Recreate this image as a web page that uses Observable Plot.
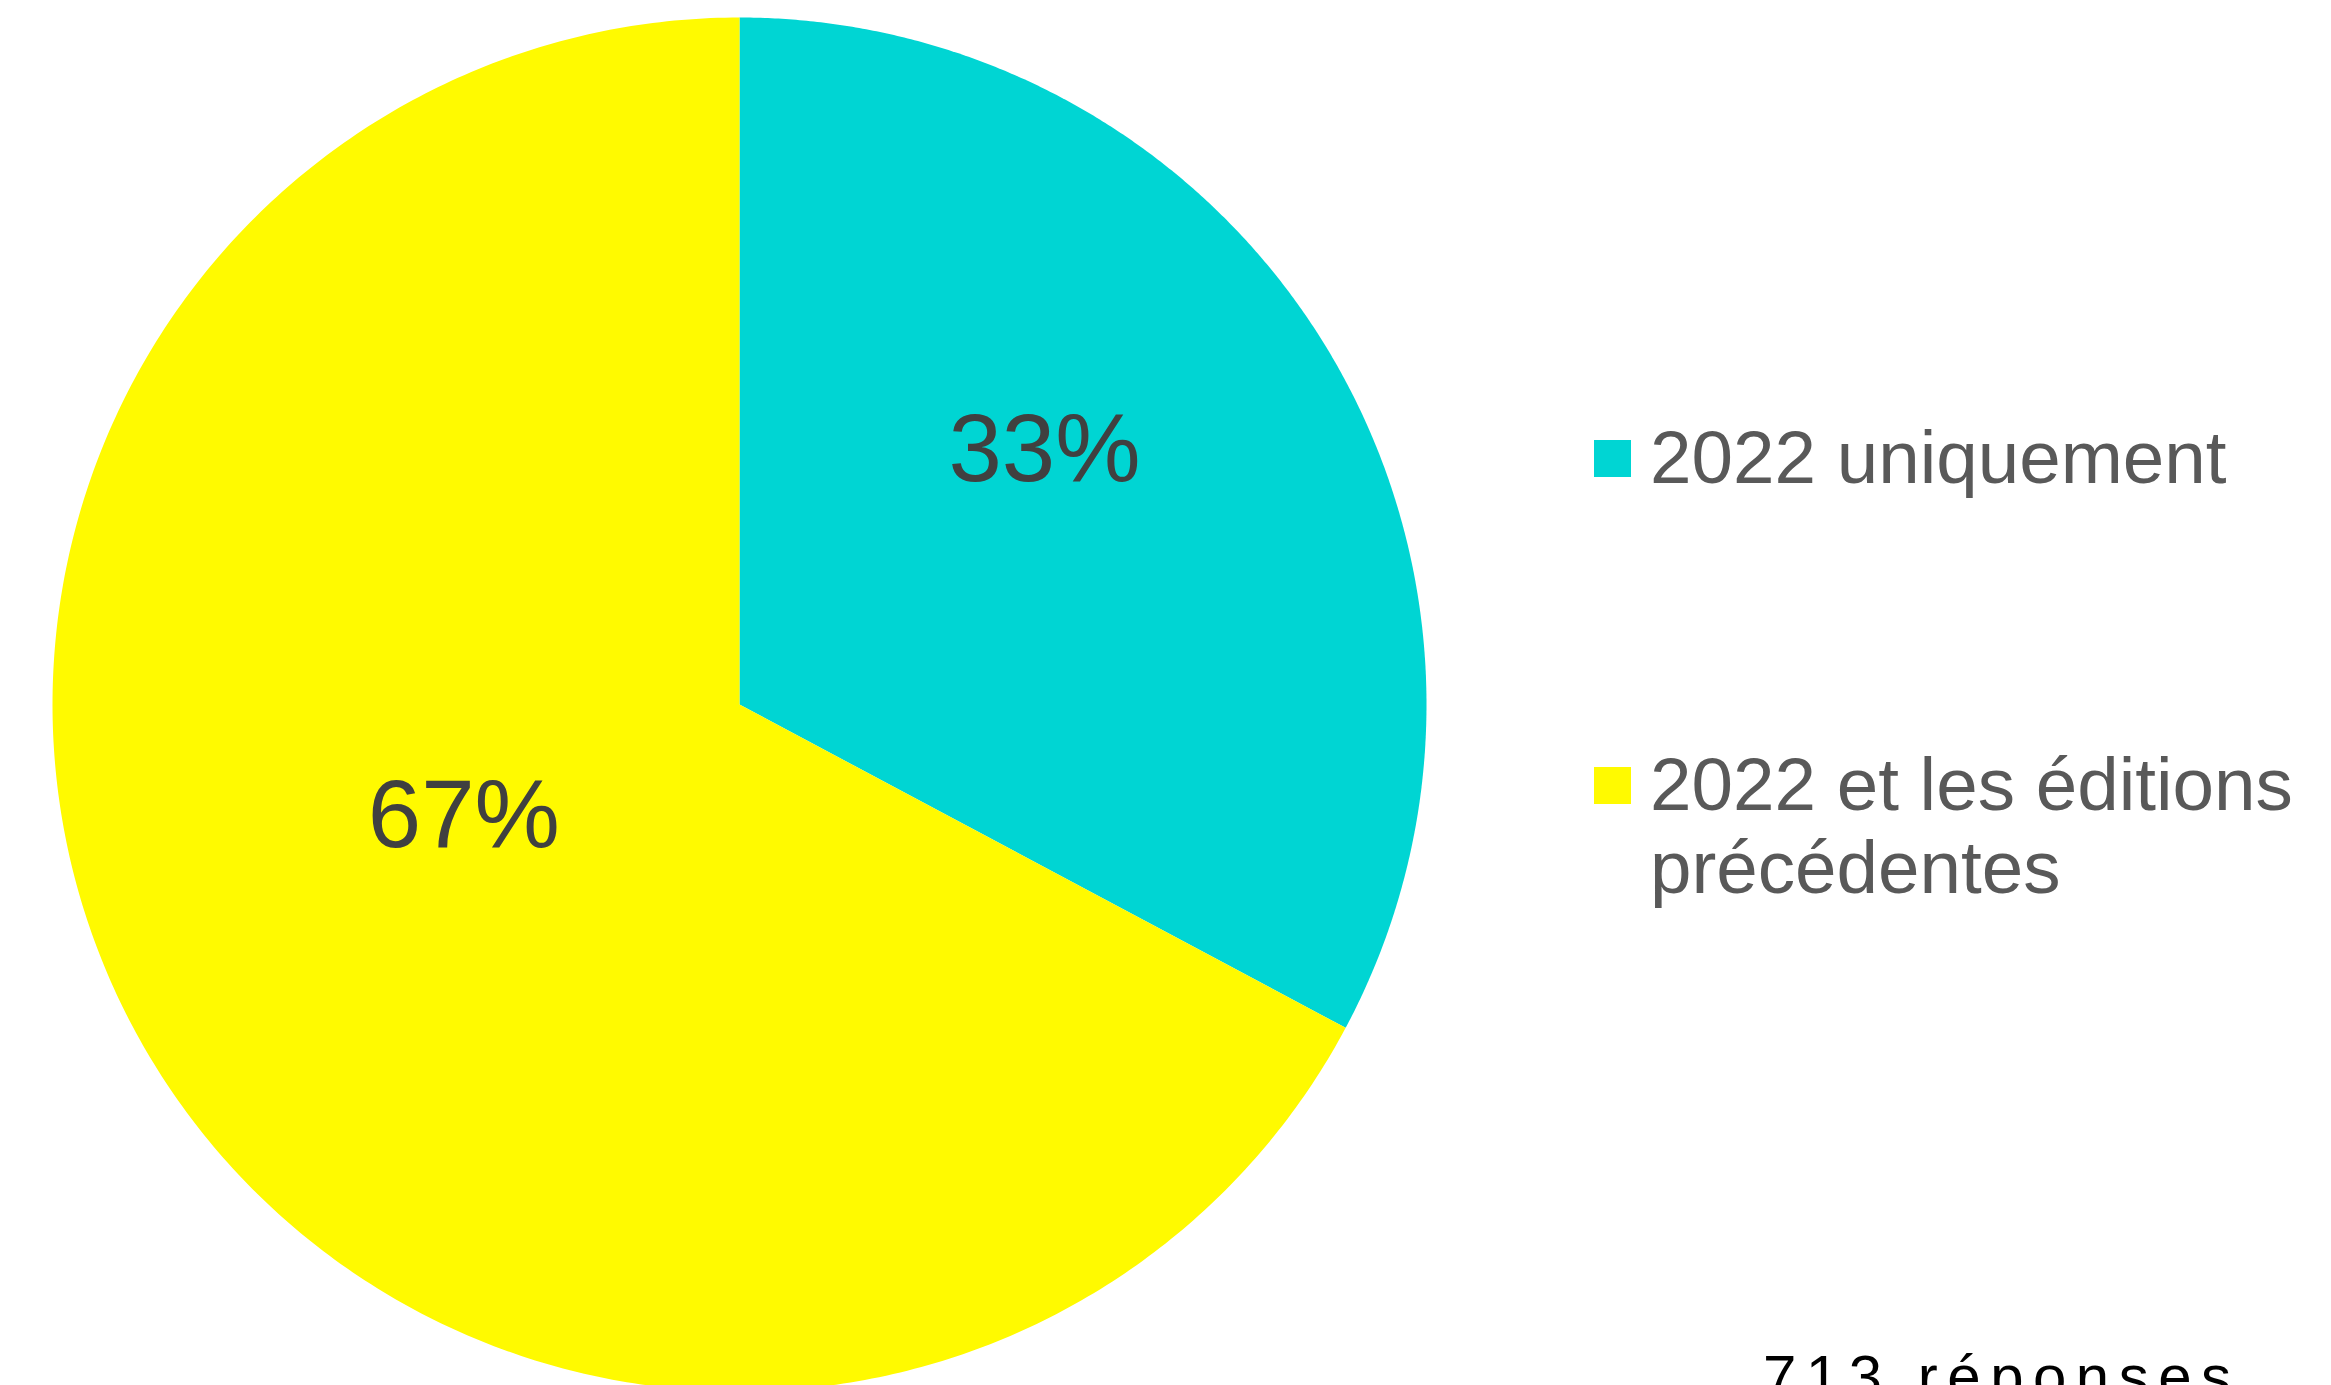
<!DOCTYPE html>
<html>
<head>
<meta charset="utf-8">
<script src="https://cdn.jsdelivr.net/npm/d3@7"></script>
<script src="https://cdn.jsdelivr.net/npm/@observablehq/plot@0.6"></script>
<style>
  html, body { margin: 0; padding: 0; background: #fff; overflow: hidden; }
  #wrap { position: relative; width: 2331px; height: 1385px; overflow: hidden; }
  .legend { position: absolute; left: 1594px; font-family: "Liberation Sans", Arial, sans-serif; font-size: 74.6px; line-height: 82.5px; color: #595959; }
  .legend .sw { position: absolute; left: 0; width: 37px; height: 37px; }
  .legend .lbl { position: absolute; left: 56px; white-space: nowrap; }
  .note { position: absolute; left: 1763px; top: 1342px; font-family: "Liberation Sans", Arial, sans-serif; font-size: 60px; line-height: normal; letter-spacing: 9.5px; color: #000; white-space: nowrap; }
</style>
</head>
<body>
<div id="wrap"></div>
<script>
const categories = ["2022 uniquement", "2022 et les éditions précédentes"];
const legendLines = [["2022 uniquement"], ["2022 et les éditions", "précédentes"]];
const shares = [32.8, 67.2];
const labels = ["33%", "67%"];
const colors = ["#00D5D3", "#FFFA00"];
const note = "713 réponses";

const W = 2331, H = 1385;
const cx = 739, cy = 704, R = 687;

const arcs = d3.pie().sort(null).value(d => d)(shares);
const points = [];
arcs.forEach((a, i) => {
  const n = 400;
  points.push({cat: categories[i], x: 0, y: 0});
  for (let k = 0; k <= n; k++) {
    const t = a.startAngle + (a.endAngle - a.startAngle) * k / n;
    points.push({cat: categories[i], x: R * Math.sin(t), y: R * Math.cos(t)});
  }
  points.push({cat: categories[i], x: 0, y: 0});
});

const labelData = arcs.map((a, i) => {
  const mid = (a.startAngle + a.endAngle) / 2;
  const frac = shares[i] / d3.sum(shares);
  const rr = R * (frac < 0.5 ? 0.582 : 0.431);
  const off = frac < 0.5 ? -0.163 : 0.167;
  return {text: labels[i], x: rr * Math.sin(mid + off), y: rr * Math.cos(mid + off) - 4};
});

const chart = Plot.plot({
  width: W,
  height: H,
  margin: 0,
  style: {background: "white", overflow: "hidden"},
  x: {type: "linear", domain: [-cx, W - cx], range: [0, W], axis: null},
  y: {type: "linear", domain: [-(H - cy), cy], range: [H, 0], axis: null},
  color: {domain: categories, range: colors},
  marks: [
    Plot.line(points, {x: "x", y: "y", z: "cat", fill: "cat", stroke: "none", curve: "linear"}),
    Plot.text(labelData, {x: "x", y: "y", text: "text", fontSize: 96, fill: "#404040", fontFamily: "Liberation Sans, Arial, sans-serif"})
  ]
});

const wrap = document.getElementById("wrap");
wrap.appendChild(chart);

const tops = [416, 743];
categories.forEach((c, i) => {
  const item = document.createElement("div");
  item.className = "legend";
  item.style.top = tops[i] + "px";
  const sw = document.createElement("div");
  sw.className = "sw";
  sw.style.background = colors[i];
  sw.style.top = "24px";
  const lbl = document.createElement("div");
  lbl.className = "lbl";
  lbl.style.top = "0px";
  lbl.innerHTML = legendLines[i].join("<br>");
  item.appendChild(sw);
  item.appendChild(lbl);
  wrap.appendChild(item);
});

const n = document.createElement("div");
n.className = "note";
n.textContent = note;
wrap.appendChild(n);
</script>
</body>
</html>
